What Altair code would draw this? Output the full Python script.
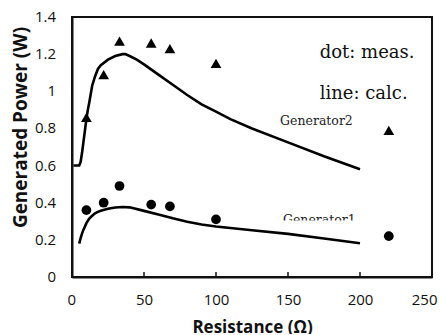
import altair as alt
import pandas as pd

# ---- data ----
meas_x = [10, 22, 33, 55, 68, 100, 220]
gen2_meas = [0.86, 1.09, 1.27, 1.26, 1.23, 1.15, 0.79]
gen1_meas = [0.36, 0.40, 0.49, 0.39, 0.38, 0.31, 0.22]

gen2_calc_x = [1, 5, 6, 7, 8, 9, 10, 11, 12, 14, 16, 18, 20, 25, 30, 35, 37, 40, 45, 50,
               60, 70, 80, 90, 100, 110, 125, 150, 175, 200]
gen2_calc_y = [0.60, 0.60, 0.62, 0.67, 0.73, 0.79, 0.85, 0.90, 0.94, 1.03, 1.08, 1.12, 1.14,
               1.17, 1.19, 1.20, 1.20, 1.19, 1.17, 1.145, 1.09, 1.035, 0.98, 0.93, 0.89,
               0.85, 0.80, 0.725, 0.65, 0.58]

gen1_calc_x = [5, 6, 7, 8, 10, 12, 14, 16, 18, 20, 25, 30, 35, 40, 50, 60, 70, 80, 90, 100,
               125, 150, 175, 200]
gen1_calc_y = [0.18, 0.21, 0.235, 0.255, 0.29, 0.315, 0.33, 0.343, 0.351, 0.357, 0.367,
               0.374, 0.377, 0.375, 0.356, 0.336, 0.316, 0.298, 0.283, 0.272, 0.252, 0.232,
               0.207, 0.182]

x_ticks = [0, 50, 100, 150, 200, 250]
inner_ticks = [50, 100, 150, 200]
y_ticks = [0, 0.2, 0.4, 0.6, 0.8, 1.0, 1.2, 1.4]

x_range = [0, 250]
y_range = [0, 1.4]

notes = ["dot: meas.", "line: calc."]
notes_x = [172, 172]
notes_y = [1.18, 0.96]

gen_labels = ["Generator2", "Generator1"]
gen_labels_x = [144.5, 146.5]
gen_labels_y = [0.82, 0.288]

# ---- tables ----
calc = pd.concat([
    pd.DataFrame({"R": gen2_calc_x, "P": gen2_calc_y, "s": "Generator2"}),
    pd.DataFrame({"R": gen1_calc_x, "P": gen1_calc_y, "s": "Generator1"}),
])
meas = pd.concat([
    pd.DataFrame({"R": meas_x, "P": gen2_meas, "s": "Generator2"}),
    pd.DataFrame({"R": meas_x, "P": gen1_meas, "s": "Generator1"}),
])
notes_df = pd.DataFrame({"x": notes_x, "y": notes_y, "t": notes})
gen_df = pd.DataFrame({"x": gen_labels_x, "y": gen_labels_y, "t": gen_labels})
tick_df = pd.DataFrame({"x": inner_ticks})
ylab_df = pd.DataFrame({"y": y_ticks, "t": [f"{v:g}" for v in y_ticks]})
# top and right edges of the plot box (domain corners)
frame_df = pd.DataFrame({"x": [x_range[0], x_range[1], x_range[1]],
                         "y": [y_range[1], y_range[1], y_range[0]],
                         "o": [0, 1, 2]})
mask_df = pd.DataFrame({"x": [143.0], "x2": [206.0], "y": [0.262], "y2": [0.304]})

W, H = 360, 260

xs = alt.Scale(domain=x_range, nice=False)
ys = alt.Scale(domain=y_range, nice=False)

x_axis = alt.Axis(values=x_ticks, ticks=False, grid=False, labelFontSize=15,
                  labelFont="Open Sans", labelColor="#111", labelPadding=15,
                  labelOverlap=False, labelFlush=True, labelFlushOffset=5,
                  title="Resistance (Ω)", titleFont="Open Sans", titleFontSize=17,
                  titleFontWeight="bold", titleColor="#111", titleY=50,
                  titleBaseline="middle", domainColor="#111", domainWidth=2)
y_axis = alt.Axis(values=y_ticks, ticks=False, grid=False, labels=False,
                  title="Generated Power (W)", titleFont="Open Sans", titleFontSize=19,
                  titleFontWeight="bold", titleColor="#111", titleX=-52, titleY=110,
                  titleAngle=270, titleAlign="center", titleBaseline="middle",
                  domainColor="#111", domainWidth=2)

lines = alt.Chart(calc).mark_line(color="black", strokeWidth=2.6).encode(
    x=alt.X("R:Q", scale=xs, axis=x_axis),
    y=alt.Y("P:Q", scale=ys, axis=y_axis),
    detail="s:N",
)

frame = alt.Chart(frame_df).mark_line(color="#111", strokeWidth=2).encode(
    x=alt.X("x:Q", scale=xs),
    y=alt.Y("y:Q", scale=ys),
    order="o:Q",
)

ylabels = alt.Chart(ylab_df).mark_text(
    font="Open Sans", fontSize=15, align="right", baseline="middle", color="#111"
).encode(x=alt.value(-16), y=alt.Y("y:Q", scale=ys), text="t:N")

points = alt.Chart(meas).mark_point(filled=True, color="black", opacity=1).encode(
    x=alt.X("R:Q", scale=xs),
    y=alt.Y("P:Q", scale=ys),
    shape=alt.Shape("s:N", scale=alt.Scale(domain=["Generator2", "Generator1"],
                                           range=["triangle-up", "circle"]), legend=None),
    size=alt.Size("s:N", scale=alt.Scale(domain=["Generator2", "Generator1"],
                                         range=[115, 95]), legend=None),
)

ticks = alt.Chart(tick_df).mark_rule(color="#111", strokeWidth=1.5).encode(
    x=alt.X("x:Q", scale=xs),
    y=alt.value(H),
    y2=alt.value(H - 5),
)

note_text = alt.Chart(notes_df).mark_text(
    font="DejaVu Serif", fontSize=18, align="left", baseline="alphabetic", color="#111"
).encode(x=alt.X("x:Q", scale=xs), y=alt.Y("y:Q", scale=ys), text="t:N")

gen_text = alt.Chart(gen_df).mark_text(
    font="DejaVu Serif", fontSize=12.5, align="left", baseline="alphabetic", color="#222"
).encode(x=alt.X("x:Q", scale=xs), y=alt.Y("y:Q", scale=ys), text="t:N")

mask = alt.Chart(mask_df).mark_rect(color="white", opacity=1).encode(
    x=alt.X("x:Q", scale=xs), x2="x2:Q",
    y=alt.Y("y:Q", scale=ys), y2="y2:Q",
)

chart = alt.layer(lines, ticks, gen_text, mask, points, note_text, ylabels, frame).properties(
    width=W, height=H,
    background="white",
    autosize=alt.AutoSizeParams(type="none"),
    padding={"left": 64, "top": 9, "right": 6, "bottom": 57},
).configure_axis(labelOverlap=False).configure_view(stroke="#111", strokeWidth=2)

chart.save("out.html", embed_options={"renderer": "svg", "actions": False})
